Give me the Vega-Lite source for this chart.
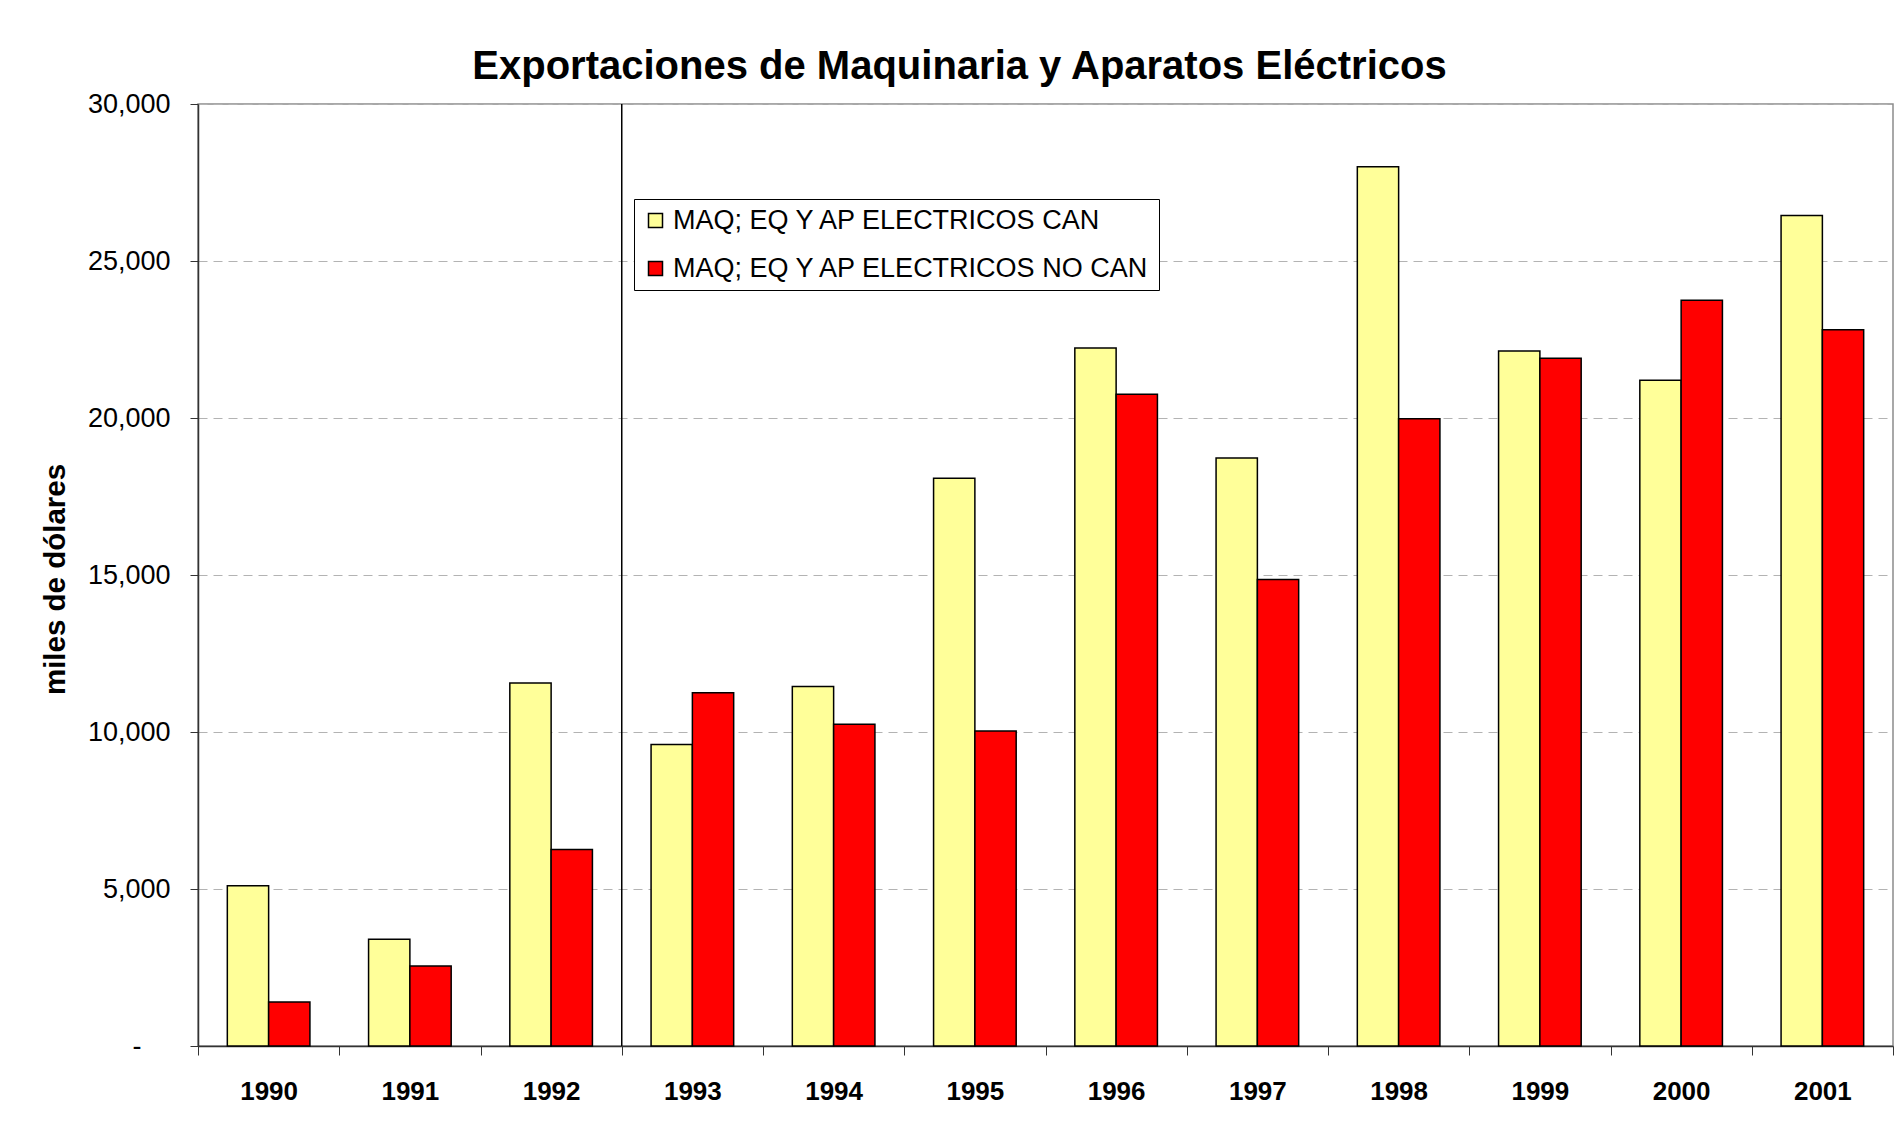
{
  "$schema": "https://vega.github.io/schema/vega-lite/v6.json",
  "width": 1695,
  "height": 942,
  "autosize": {"type": "none"},
  "padding": {"left": 198, "top": 104, "right": 10, "bottom": 88},
  "background": "white",
  "title": {
    "text": "Exportaciones de Maquinaria y Aparatos Eléctricos",
    "fontSize": 40,
    "font": "Liberation Sans",
    "fontWeight": "bold",
    "color": "black",
    "anchor": "middle",
    "frame": "group",
    "dx": -86,
    "offset": 3
  },
  "data": {
    "values": [
      {"year": "1990", "serie": "MAQ; EQ Y AP ELECTRICOS CAN", "value": 5100},
      {"year": "1990", "serie": "MAQ; EQ Y AP ELECTRICOS NO CAN", "value": 1400},
      {"year": "1991", "serie": "MAQ; EQ Y AP ELECTRICOS CAN", "value": 3400},
      {"year": "1991", "serie": "MAQ; EQ Y AP ELECTRICOS NO CAN", "value": 2550},
      {"year": "1992", "serie": "MAQ; EQ Y AP ELECTRICOS CAN", "value": 11560},
      {"year": "1992", "serie": "MAQ; EQ Y AP ELECTRICOS NO CAN", "value": 6260},
      {"year": "1993", "serie": "MAQ; EQ Y AP ELECTRICOS CAN", "value": 9600},
      {"year": "1993", "serie": "MAQ; EQ Y AP ELECTRICOS NO CAN", "value": 11250},
      {"year": "1994", "serie": "MAQ; EQ Y AP ELECTRICOS CAN", "value": 11450},
      {"year": "1994", "serie": "MAQ; EQ Y AP ELECTRICOS NO CAN", "value": 10250},
      {"year": "1995", "serie": "MAQ; EQ Y AP ELECTRICOS CAN", "value": 18080},
      {"year": "1995", "serie": "MAQ; EQ Y AP ELECTRICOS NO CAN", "value": 10030},
      {"year": "1996", "serie": "MAQ; EQ Y AP ELECTRICOS CAN", "value": 22230},
      {"year": "1996", "serie": "MAQ; EQ Y AP ELECTRICOS NO CAN", "value": 20760},
      {"year": "1997", "serie": "MAQ; EQ Y AP ELECTRICOS CAN", "value": 18730},
      {"year": "1997", "serie": "MAQ; EQ Y AP ELECTRICOS NO CAN", "value": 14860},
      {"year": "1998", "serie": "MAQ; EQ Y AP ELECTRICOS CAN", "value": 28000},
      {"year": "1998", "serie": "MAQ; EQ Y AP ELECTRICOS NO CAN", "value": 19980},
      {"year": "1999", "serie": "MAQ; EQ Y AP ELECTRICOS CAN", "value": 22130},
      {"year": "1999", "serie": "MAQ; EQ Y AP ELECTRICOS NO CAN", "value": 21900},
      {"year": "2000", "serie": "MAQ; EQ Y AP ELECTRICOS CAN", "value": 21200},
      {"year": "2000", "serie": "MAQ; EQ Y AP ELECTRICOS NO CAN", "value": 23750},
      {"year": "2001", "serie": "MAQ; EQ Y AP ELECTRICOS CAN", "value": 26450},
      {"year": "2001", "serie": "MAQ; EQ Y AP ELECTRICOS NO CAN", "value": 22810}
    ]
  },
  "layer": [
    {
      "mark": {"type": "bar", "stroke": "black", "strokeWidth": 1.5},
      "encoding": {
        "x": {
          "field": "year",
          "type": "nominal",
          "scale": {
            "domain": ["1990", "1991", "1992", "1993", "1994", "1995", "1996", "1997", "1998", "1999", "2000", "2001"],
            "paddingInner": 0,
            "paddingOuter": 0
          },
          "axis": {
            "title": null,
            "labelAngle": 0,
            "labelFontSize": 26,
            "labelFontWeight": "bold",
            "labelFont": "Liberation Sans",
            "labelColor": "black",
            "tickBand": "extent",
            "tickSize": 9,
            "labelPadding": 23,
            "tickColor": "#333333",
            "domainColor": "#333333",
            "tickWidth": 1,
            "domainWidth": 1.5
          }
        },
        "xOffset": {
          "field": "serie",
          "type": "nominal",
          "scale": {"paddingInner": 0, "paddingOuter": 0.71}
        },
        "y": {
          "field": "value",
          "type": "quantitative",
          "scale": {"domain": [0, 30000], "nice": false},
          "axis": {
            "title": "miles de dólares",
            "titleFontSize": 29.5,
            "titleFontWeight": "bold",
            "titleFont": "Liberation Sans",
            "titleColor": "black",
            "titleX": -143,
            "titleY": 475,
            "titleAngle": 270,
            "titleAlign": "center",
            "titleBaseline": "middle",
            "values": [0, 5000, 10000, 15000, 20000, 25000, 30000],
            "labelExpr": "datum.value == 0 ? '-' : format(datum.value, ',')",
            "labelFontSize": 27,
            "labelFont": "Liberation Sans",
            "labelColor": "black",
            "labelPadding": {"condition": {"test": "datum.value == 0", "value": 49}, "value": 20},
            "tickSize": 8,
            "tickColor": "#333333",
            "domainColor": "#333333",
            "domainWidth": 1.5,
            "grid": true,
            "gridDash": [9, 6],
            "gridColor": "#b3b3b3",
            "gridWidth": 1
          }
        },
        "color": {
          "field": "serie",
          "type": "nominal",
          "scale": {
            "domain": ["MAQ; EQ Y AP ELECTRICOS CAN", "MAQ; EQ Y AP ELECTRICOS NO CAN"],
            "range": ["#FFFF99", "#FF0000"]
          },
          "legend": {
            "title": null,
            "orient": "none",
            "legendX": 436,
            "legendY": 95,
            "direction": "vertical",
            "fillColor": "white",
            "strokeColor": "black",
            "padding": 8,
            "labelFontSize": 27,
            "labelFont": "Liberation Sans",
            "labelColor": "black",
            "labelLimit": 0,
            "labelOffset": 4,
            "symbolType": "square",
            "symbolSize": 196,
            "symbolStrokeColor": "black",
            "symbolStrokeWidth": 1.5,
            "symbolOpacity": 1,
            "rowPadding": 20
          }
        }
      }
    },
    {
      "transform": [{"filter": "datum.year == '1993' && datum.serie == 'MAQ; EQ Y AP ELECTRICOS CAN'"}],
      "mark": {"type": "rule", "color": "black", "strokeWidth": 1.5},
      "encoding": {
        "x": {"field": "year", "type": "nominal", "bandPosition": 0},
        "y": {"datum": 0},
        "y2": {"datum": 30000}
      }
    }
  ],
  "config": {
    "view": {"stroke": "#8c8c8c", "strokeWidth": 1.5},
    "font": "Liberation Sans"
  }
}
